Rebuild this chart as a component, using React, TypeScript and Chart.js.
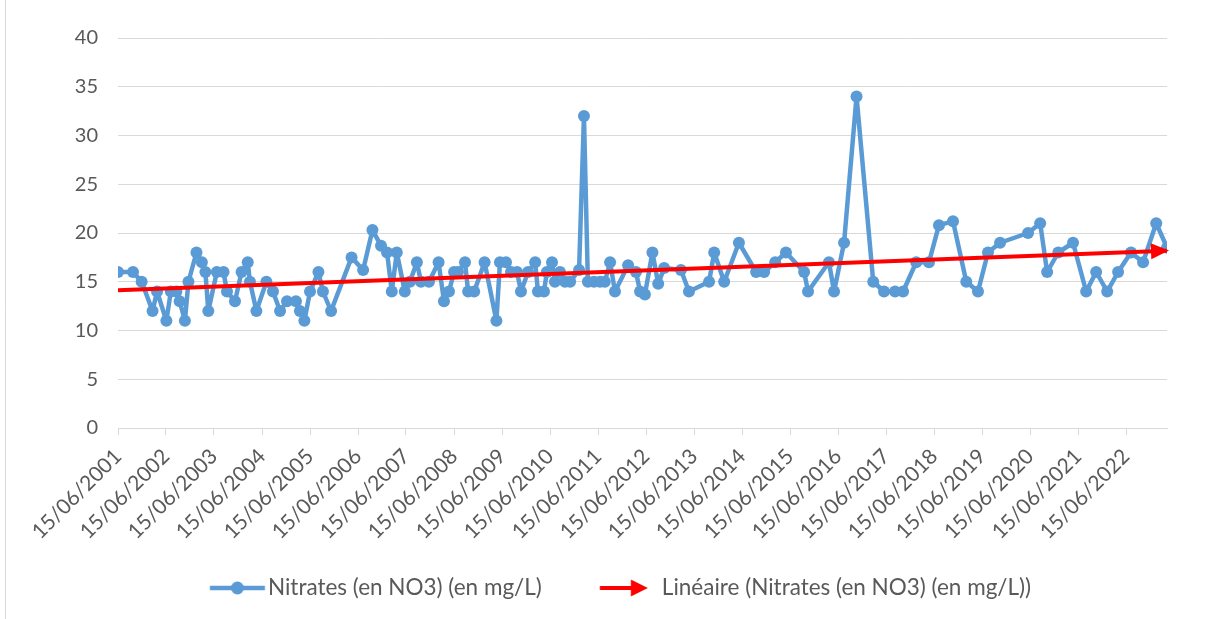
import { useEffect, useRef } from 'react';
import { Chart, registerables } from 'chart.js';

Chart.register(...registerables);

// Sampling dates (YYYY-MM-DD) and nitrate values (mg/L)
const sampleDates = [
  '2001-06-15', '2001-10-07', '2001-12-12', '2002-03-05', '2002-04-08', '2002-06-18', '2002-07-22', '2002-09-02',
  '2002-09-27', '2002-11-06', '2002-12-03', '2003-02-02', '2003-03-15', '2003-04-11', '2003-05-03', '2003-07-07',
  '2003-08-27', '2003-09-22', '2003-11-22', '2004-01-11', '2004-02-27', '2004-03-15', '2004-05-03', '2004-07-18',
  '2004-09-06', '2004-10-30', '2004-12-22', '2005-02-28', '2005-03-30', '2005-05-03', '2005-06-15', '2005-08-18',
  '2005-09-21', '2005-11-22', '2006-04-27', '2006-07-24', '2006-10-03', '2006-12-07', '2007-01-22', '2007-02-27',
  '2007-04-06', '2007-06-06', '2007-07-15', '2007-09-06', '2007-10-07', '2007-12-07', '2008-02-18', '2008-03-30',
  '2008-05-07', '2008-06-15', '2008-07-15', '2008-09-06', '2008-09-30', '2008-11-15', '2009-02-02', '2009-05-03',
  '2009-05-30', '2009-07-15', '2009-08-22', '2009-10-07', '2009-11-06', '2009-12-30', '2010-02-22', '2010-03-15',
  '2010-04-30', '2010-05-22', '2010-06-30', '2010-07-22', '2010-08-30', '2010-10-07', '2010-11-15', '2011-01-22',
  '2011-02-28', '2011-03-30', '2011-05-15', '2011-06-30', '2011-08-06', '2011-09-15', '2011-10-22', '2012-01-30',
  '2012-03-30', '2012-04-30', '2012-06-06', '2012-08-02', '2012-09-15', '2012-10-30', '2013-03-07', '2013-05-07',
  '2013-10-07', '2013-11-15', '2014-01-30', '2014-05-22', '2014-09-30', '2014-11-30', '2015-02-22', '2015-05-15',
  '2015-09-30', '2015-10-30', '2016-04-06', '2016-05-15', '2016-07-30', '2016-11-02', '2017-03-09', '2017-05-30',
  '2017-08-22', '2017-10-22', '2018-01-30', '2018-05-07', '2018-07-22', '2018-11-06', '2019-02-15', '2019-05-15',
  '2019-07-30', '2019-10-30', '2020-05-30', '2020-08-30', '2020-10-22', '2021-01-15', '2021-05-07', '2021-08-15',
  '2021-10-30', '2022-01-22', '2022-04-15', '2022-07-22', '2022-10-22', '2023-01-30', '2023-04-22',
];

const nitrates = [
  16, 16, 15, 12, 14, 11, 14, 14,
  13, 11, 15, 18, 17, 16, 12, 16,
  16, 14, 13, 16, 17, 15, 12, 15,
  14, 12, 13, 13, 12, 11, 14, 16,
  14, 12, 17.5, 16.2, 20.3, 18.7, 18, 14,
  18, 14, 15, 17, 15, 15, 17, 13,
  14, 16, 16, 17, 14, 14, 17, 11,
  17, 17, 16, 16, 14, 16, 17, 14,
  14, 16, 17, 15, 16, 15, 15, 16.2,
  32, 15, 15, 15, 15, 17, 14, 16.7,
  16, 14, 13.7, 18, 14.8, 16.4, 16.2, 14,
  15, 18, 15, 19, 16, 16, 17, 18,
  16, 14, 17, 14, 19, 34, 15, 14,
  14, 14, 17, 17, 20.8, 21.2, 15, 14,
  18, 19, 20, 21, 16, 18, 19, 14,
  16, 14, 16, 18, 17, 21, 18.5,
];

const tickLabels = [
  '15/06/2001', '15/06/2002', '15/06/2003', '15/06/2004', '15/06/2005', '15/06/2006',
  '15/06/2007', '15/06/2008', '15/06/2009', '15/06/2010', '15/06/2011', '15/06/2012',
  '15/06/2013', '15/06/2014', '15/06/2015', '15/06/2016', '15/06/2017', '15/06/2018',
  '15/06/2019', '15/06/2020', '15/06/2021', '15/06/2022',
];

const seriesLabel = 'Nitrates (en NO3) (en mg/L)';
const trendLabel = 'Linéaire (Nitrates (en NO3) (en mg/L))';

const BLUE = '#5b9bd5';
const RED = '#ff0000';
const TEXT = '#595959';
const GRID = '#d9d9d9';
const FONT = 'Lato';

// layout constants
const PAD_LEFT = 33.75;
const PLOT_LEFT = 118;
const LEG_PAD = 21.75;
const LEG_BOX = 87;
const ICON_W = 120;
const ICON_OFF = ICON_W / 2 - 3.25;

const isoToMs = (s: string) => {
  const [y, m, d] = s.split('-').map(Number);
  return Date.UTC(y, m - 1, d);
};
const frToMs = (s: string) => {
  const [d, m, y] = s.split('/').map(Number);
  return Date.UTC(y, m - 1, d);
};

function makeIcon(kind: 'series' | 'trend'): HTMLCanvasElement {
  const c = document.createElement('canvas');
  c.width = ICON_W;
  c.height = 20;
  const ctx = c.getContext('2d')!;
  const cy = 10;
  const x0 = ICON_OFF;
  if (kind === 'series') {
    ctx.strokeStyle = BLUE;
    ctx.lineWidth = 4.5;
    ctx.beginPath();
    ctx.moveTo(x0, cy);
    ctx.lineTo(x0 + 55, cy);
    ctx.stroke();
    ctx.fillStyle = BLUE;
    ctx.beginPath();
    ctx.arc(x0 + 27.5, cy, 6.5, 0, Math.PI * 2);
    ctx.fill();
  } else {
    const x1 = x0 - 4;
    ctx.strokeStyle = RED;
    ctx.lineWidth = 4;
    ctx.beginPath();
    ctx.moveTo(x1, cy);
    ctx.lineTo(x1 + 36, cy);
    ctx.stroke();
    ctx.fillStyle = RED;
    ctx.beginPath();
    ctx.moveTo(x1 + 48, cy);
    ctx.lineTo(x1 + 31, cy - 8.5);
    ctx.lineTo(x1 + 31, cy + 8.5);
    ctx.closePath();
    ctx.fill();
  }
  return c;
}

const arrowPlugin = {
  id: 'trendArrow',
  afterDatasetsDraw(chart: any) {
    const meta = chart.getDatasetMeta(1);
    const pts = meta.data;
    if (!pts || pts.length < 2) return;
    const a = pts[pts.length - 2];
    const b = pts[pts.length - 1];
    const ang = Math.atan2(b.y - a.y, b.x - a.x);
    const ctx = chart.ctx;
    ctx.save();
    ctx.translate(b.x, b.y);
    ctx.rotate(ang);
    ctx.fillStyle = RED;
    ctx.beginPath();
    ctx.moveTo(2, 0);
    ctx.lineTo(-16, -8);
    ctx.lineTo(-16, 8);
    ctx.closePath();
    ctx.fill();
    ctx.restore();
  },
};

const borderPlugin = {
  id: 'outerBorder',
  beforeDraw(chart: any) {
    const ctx = chart.ctx;
    ctx.save();
    ctx.strokeStyle = GRID;
    ctx.lineWidth = 1;
    ctx.beginPath();
    ctx.moveTo(5.5, 0);
    ctx.lineTo(5.5, chart.height);
    ctx.stroke();
    ctx.restore();
  },
};

export default function App() {
  const canvasRef = useRef<HTMLCanvasElement | null>(null);

  useEffect(() => {
    if (!canvasRef.current) return;
    const xs = sampleDates.map(isoToMs);
    const points = xs.map((x, i) => ({ x, y: nitrates[i] }));

    // Linear least-squares trend (as Excel's linear trendline)
    const n = xs.length;
    const mx = xs.reduce((s, v) => s + v, 0) / n;
    const my = nitrates.reduce((s, v) => s + v, 0) / n;
    let sxy = 0;
    let sxx = 0;
    xs.forEach((x, i) => {
      sxy += (x - mx) * (nitrates[i] - my);
      sxx += (x - mx) * (x - mx);
    });
    const slope = sxy / sxx;
    const icpt = my - slope * mx;
    const xMin = xs[0];
    const xMax = xs[xs.length - 1];
    const trend = [
      { x: xMin, y: icpt + slope * xMin },
      { x: xMax, y: icpt + slope * xMax },
    ];
    const tickValues = tickLabels.map(frToMs);

    const seriesIcon = makeIcon('series');
    const trendIcon = makeIcon('trend');

    const chart = new Chart(canvasRef.current, {
      type: 'line',
      data: {
        datasets: [
          {
            label: seriesLabel,
            data: points,
            borderColor: BLUE,
            backgroundColor: BLUE,
            borderWidth: 4.5,
            pointRadius: 6,
            pointBorderWidth: 0,
            pointBackgroundColor: BLUE,
            borderJoinStyle: 'round',
            tension: 0,
            order: 1,
          },
          {
            label: trendLabel,
            data: trend,
            borderColor: RED,
            backgroundColor: RED,
            borderWidth: 4,
            pointRadius: 0,
            borderCapStyle: 'butt',
            order: 0,
          },
        ],
      },
      options: {
        responsive: false,
        animation: false,
        layout: { padding: { left: PAD_LEFT, right: 46, top: 38, bottom: 9.75 } },
        scales: {
          x: {
            type: 'linear',
            min: xMin,
            max: xMax,
            afterBuildTicks: (scale: any) => {
              scale.ticks = tickValues.map((v) => ({ value: v }));
            },
            afterFit: (scale: any) => {
              scale.height = 127;
            },
            ticks: {
              autoSkip: false,
              minRotation: 45,
              maxRotation: 45,
              padding: 9,
              color: TEXT,
              font: { family: FONT, size: 21 },
              callback: (_v: any, i: number) => tickLabels[i],
            },
            grid: {
              display: true,
              drawOnChartArea: false,
              drawTicks: true,
              tickLength: 7,
              color: GRID,
              lineWidth: 1,
            },
            border: { display: true, color: GRID, width: 1 },
          },
          y: {
            min: 0,
            max: 40,
            afterFit: (scale: any) => {
              scale.width = PLOT_LEFT - PAD_LEFT;
            },
            ticks: {
              stepSize: 5,
              padding: 20,
              color: TEXT,
              font: { family: FONT, size: 20 },
            },
            grid: { color: GRID, lineWidth: 1, drawTicks: false },
            border: { display: false },
          },
        },
        plugins: {
          legend: {
            position: 'bottom',
            labels: {
              usePointStyle: true,
              pointStyleWidth: LEG_BOX,
              padding: LEG_PAD,
              color: TEXT,
              font: { family: FONT, size: 22.5 },
              sort: (a: any, b: any) => a.datasetIndex - b.datasetIndex,
              generateLabels: (ch: any) => {
                const items = (Chart.defaults.plugins.legend.labels as any).generateLabels(ch);
                return items.map((it: any) => ({
                  ...it,
                  pointStyle: it.datasetIndex === 0 ? seriesIcon : trendIcon,
                  fontColor: TEXT,
                }));
              },
            },
          },
          tooltip: { enabled: false },
        },
      },
      plugins: [arrowPlugin, borderPlugin],
    } as any);

    return () => chart.destroy();
  }, []);

  return (
    <div style={{ position: 'fixed', left: 0, top: 0, width: 1213, height: 619, background: '#fff' }}>
      <canvas ref={canvasRef} width={1213} height={619} style={{ display: 'block' }} />
    </div>
  );
}
